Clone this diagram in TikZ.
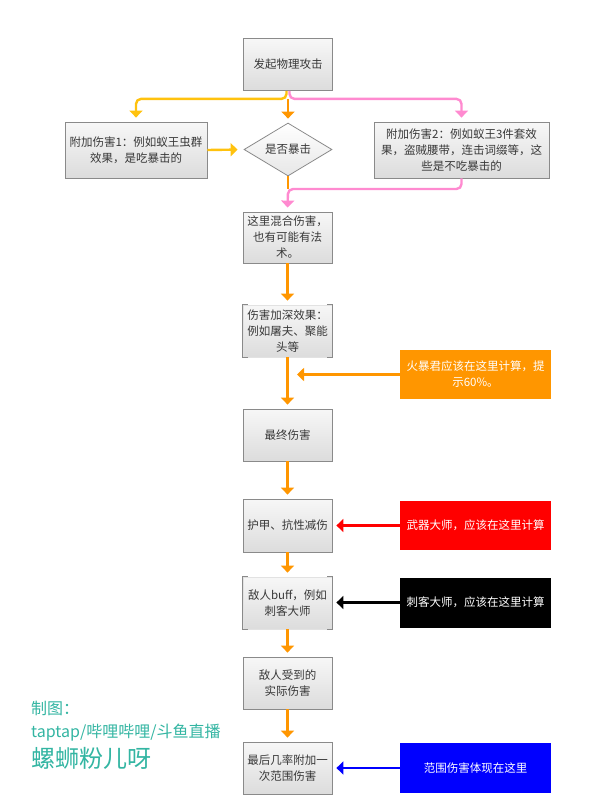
\documentclass[tikz,border=0pt]{standalone}
\usepackage{fontspec}
\setmainfont{Noto Sans CJK SC}
\usetikzlibrary{arrows.meta,shapes.geometric}
\definecolor{txt}{HTML}{383838}
\definecolor{boxborder}{HTML}{8A8A8A}
\definecolor{boxtop}{HTML}{F7F7F7}
\definecolor{boxbot}{HTML}{DCDCDC}
\definecolor{orng}{HTML}{FF9600}
\definecolor{yelo}{HTML}{FFC20E}
\definecolor{pink}{HTML}{FF8AD0}
\definecolor{teal}{HTML}{33B5A2}
\tikzset{
  gbox/.style={draw=boxborder, line width=0.8pt, top color=boxtop, bottom color=boxbot,
    minimum width=89pt, minimum height=52pt, inner sep=2pt, align=center, text=txt,
    font=\fontsize{11.5pt}{16pt}\selectfont},
  bbox/.style={gbox, draw=boxborder!25},
  sbox/.style={minimum width=151pt, minimum height=49pt, inner sep=2pt, align=center,
    text=white, font=\fontsize{11.5pt}{16pt}\selectfont},
  flow/.style={line width=2.4pt, -{Triangle[width=13pt,length=7pt]}, shorten >=4pt,
    rounded corners=5pt},
  plain/.style={line width=2.4pt, rounded corners=5pt},
  brk/.style={draw=boxborder, line width=0.9pt},
  credit/.style={text=teal, anchor=west, inner sep=0pt}
}
\begin{document}
\begin{tikzpicture}[x=1pt,y=-1pt]
\useasboundingbox (0,0) rectangle (596,800);

% main boxes
\node[gbox] (b1) at (288,64.5) {发起物理攻击};
\node[draw=boxborder, line width=0.8pt, top color=white, bottom color=boxbot!70,
  shape=diamond, aspect=1.66, minimum width=88pt, minimum height=53pt, inner sep=0pt,
  text=txt, font=\fontsize{11.5pt}{16pt}\selectfont] (d) at (288,149.5) {是否暴击};
\node[gbox, minimum width=142pt, minimum height=56pt] (bl) at (136,150)
  {附加伤害1：例如蚁王虫群\\效果，是吃暴击的};
\node[gbox, minimum width=175pt, minimum height=56pt] (br) at (461.5,150)
  {附加伤害2：例如蚁王3件套效\\果，盗贼腰带，连击词缀等，这\\些是不吃暴击的};
\node[gbox, minimum height=51pt] (b3) at (287.5,237.5) {这里混合伤害，\\也有可能有法\\术。};
\node[bbox] (b4) at (287.5,331) {伤害加深效果：\\例如屠夫、聚能\\头等};
\node[gbox] (b5) at (287.5,435) {最终伤害};
\node[gbox, minimum height=53pt] (b6) at (287.5,525.5) {护甲、抗性减伤};
\node[bbox] (b7) at (287.5,603) {敌人buff，例如\\刺客大师};
\node[gbox] (b8) at (287.5,683) {敌人受到的\\实际伤害};
\node[gbox] (b9) at (287.5,768) {最后几率附加一\\次范围伤害};

% bracket edges
\foreach \n in {b4,b7}{
  \draw[brk] ([xshift=5pt]\n.north west) -- (\n.north west) -- (\n.south west) -- ([xshift=5pt]\n.south west);
  \draw[brk] ([xshift=-5pt]\n.north east) -- (\n.north east) -- (\n.south east) -- ([xshift=-5pt]\n.south east);
}

% side boxes
\node[sbox, fill=orng] (so) at (475.5,374.5) {火暴君应该在这里计算，提\\示60\%。};
\node[sbox, fill=red] (sr) at (475.5,525.5) {武器大师，应该在这里计算};
\node[sbox, fill=black, minimum height=50pt] (sk) at (475.5,602.5) {刺客大师，应该在这里计算};
\node[sbox, fill=blue, minimum height=50pt] (sb) at (475.5,768) {范围伤害体现在这里};

% junctions
\coordinate (j1) at (288,99);
\coordinate (j2) at (288,189);
\coordinate (fx) at (288,374.5);

% connectors
\draw[flow, yelo] ([xshift=-1.5pt]b1.south) -- ++(0,8) -| (bl.north);
\draw[flow, pink] ([xshift=1.5pt]b1.south) -- ++(0,8) -| (br.north);
\draw[flow, orng] (j1) -- (d.north);
\draw[flow, yelo, shorten >=6pt] (bl.east) -- (d.west);
\draw[plain, orng] (d.south) -- (j2);
\draw[flow, pink] (br.south) |- (j2) -- (b3.north);
\draw[flow, orng] (b3.south) -- (b4.north);
\draw[flow, orng] (b4.south) -- (b5.north);
\draw[flow, orng] (b5.south) -- (b6.north);
\draw[flow, orng] (b6.south) -- (b7.north);
\draw[flow, orng] (b7.south) -- (b8.north);
\draw[flow, orng] (b8.south) -- (b9.north);
\draw[flow, orng, shorten >=9pt] (so.west) -- (fx);
\draw[flow, red] (sr.west) -- (sr.west -| b6.east);
\draw[flow, black] (sk.west) -- (sk.west -| b7.east);
\draw[flow, blue] (sb.west) -- (sb.west -| b9.east);

% credits
\node[credit, font=\fontsize{16pt}{18pt}\selectfont] (m1) at (31,708) {制图：};
\node[credit, font=\fontsize{16pt}{18pt}\selectfont] (m2) at (31,733) {taptap/哔哩哔哩/斗鱼直播};
\node[credit, font=\fontsize{24pt}{26pt}\selectfont] (m3) at (31,758) {螺蛳粉儿呀};
\end{tikzpicture}
\end{document}
